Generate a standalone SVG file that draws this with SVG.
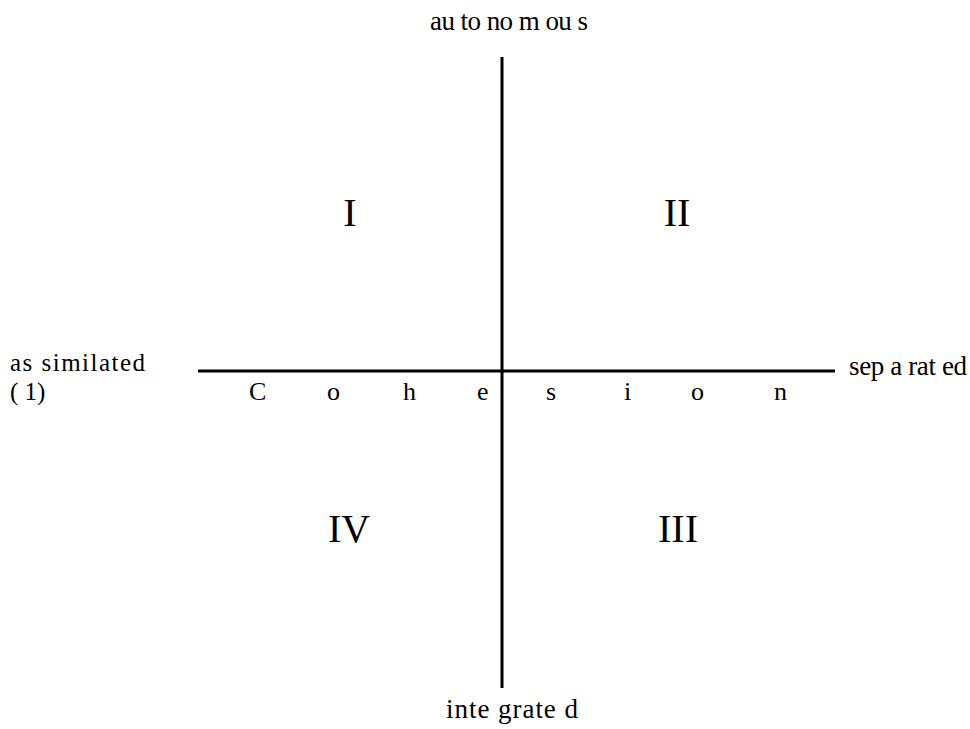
<svg xmlns="http://www.w3.org/2000/svg" width="970" height="729" viewBox="0 0 970 729">
<style>
text{font-family:"Liberation Serif","Times New Roman",serif;fill:#000}
.s{font-size:27px}
.a{font-size:25px}
.c{font-size:26px}
.r{font-size:40px;text-anchor:middle}
.ax{stroke:#000;stroke-width:3;fill:none}
</style>
<rect width="970" height="729" fill="#fff"/>
<g id="connectors">
<line class="ax" x1="502" y1="57" x2="502" y2="688"/>
<line class="ax" x1="198" y1="371" x2="835" y2="371"/>
</g>
<g id="autonomous"><text class="s" x="430" y="30" textLength="158" lengthAdjust="spacing">au to no m ou s</text></g>
<g id="integrated"><text class="s" x="446" y="718" textLength="132" lengthAdjust="spacing">inte grate d</text></g>
<g id="assimilated"><text class="a" x="10" y="371" textLength="135" lengthAdjust="spacing">as similated</text><text class="a" x="10" y="400">( 1)</text></g>
<g id="separated"><text class="s" x="849" y="375" textLength="118" lengthAdjust="spacing">sep a rat ed</text></g>
<g id="cohesion">
<text class="c" x="249" y="400">C</text>
<text class="c" x="327" y="400">o</text>
<text class="c" x="403" y="400">h</text>
<text class="c" x="477" y="400">e</text>
<text class="c" x="546" y="400">s</text>
<text class="c" x="624" y="400">i</text>
<text class="c" x="691" y="400">o</text>
<text class="c" x="774" y="400">n</text>
</g>
<g id="q1"><text class="r" x="350" y="226">I</text></g>
<g id="q2"><text class="r" x="677" y="226">II</text></g>
<g id="q3"><text class="r" x="678" y="542">III</text></g>
<g id="q4"><text class="r" x="349" y="542">IV</text></g>
</svg>
